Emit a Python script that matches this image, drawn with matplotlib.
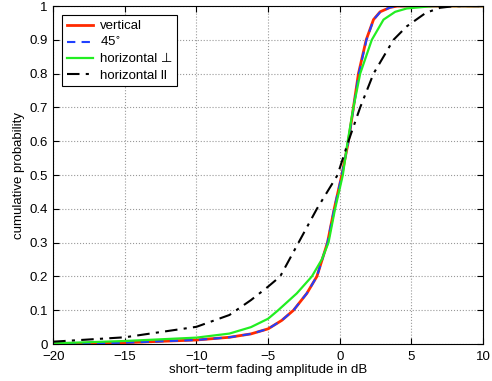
import matplotlib
matplotlib.use("Agg")
import matplotlib.pyplot as plt
import numpy as np

plt.rcParams["font.family"] = ["Liberation Sans", "DejaVu Sans"]
plt.rcParams["font.size"] = 9.5

# fading amplitude in dB and CDF values
x_vert = [-20, -15, -10, -7.7, -6.2, -5, -4.05, -3.23, -2.3, -1.6, -0.86, -0.39, 0.14,
          0.6, 0.95, 1.3, 1.84, 2.35, 2.81, 3.5, 4, 10]
cdf_vert = [0.0, 0.004, 0.012, 0.02, 0.03, 0.045, 0.07, 0.1, 0.15, 0.2, 0.3, 0.4, 0.5,
            0.6, 0.7, 0.8, 0.9, 0.96, 0.983, 0.996, 1.0, 1.0]

x_45 = [-20, -15, -10, -7.7, -6.2, -5, -4.05, -3.23, -2.3, -1.6, -0.86, -0.39, 0.14,
        0.6, 0.96, 1.32, 1.86, 2.36, 2.83, 3.5, 4, 10]
cdf_45 = [0.0, 0.004, 0.012, 0.02, 0.03, 0.045, 0.07, 0.1, 0.15, 0.2, 0.3, 0.4, 0.5,
          0.6, 0.7, 0.8, 0.9, 0.96, 0.983, 0.996, 1.0, 1.0]

x_hperp = [-20, -15, -10, -7.7, -6.2, -5, -4.3, -3.0, -1.95, -1.26, -0.79, -0.33, 0.21,
           0.55, 0.95, 1.42, 2.23, 3.05, 3.86, 4.67, 6.5, 10]
cdf_hperp = [0.002, 0.009, 0.019, 0.031, 0.05, 0.075, 0.1, 0.15, 0.2, 0.25, 0.3, 0.4, 0.5,
             0.6, 0.7, 0.8, 0.9, 0.96, 0.983, 0.993, 1.0, 1.0]

x_hpar = [-20, -15, -10, -7.7, -6.2, -5, -4.16, -2.88, -1.6, -0.16, 0.6, 1.42, 2.35,
          3.74, 4.67, 6, 7, 8, 10]
cdf_hpar = [0.007, 0.02, 0.051, 0.086, 0.13, 0.17, 0.2, 0.3, 0.4, 0.5, 0.6, 0.7, 0.8,
            0.9, 0.94, 0.98, 0.995, 1.0, 1.0]

fig = plt.figure(figsize=(4.92, 3.81), dpi=100)
ax = fig.add_axes([0.108, 0.097, 0.874, 0.887])

ax.plot(x_vert, cdf_vert, color="#ff2a00", lw=2, label="vertical")
ax.plot(x_45, cdf_45, color="#2040ff", lw=1.5, ls=(0, (4, 3)), label="45$^{\\circ}$")
ax.plot(x_hperp, cdf_hperp, color="#22ee22", lw=1.6, label="horizontal \u22a5")
ax.plot(x_hpar, cdf_hpar, color="black", lw=1.5, ls=(0, (6, 3, 1.5, 3)), label="horizontal ll")

ax.set_xlim(-20, 10)
ax.set_ylim(0, 1)
ax.set_xticks(np.arange(-20, 11, 5))
ax.set_yticks(np.arange(0, 1.01, 0.1))
ax.set_yticklabels(["0", "0.1", "0.2", "0.3", "0.4", "0.5", "0.6", "0.7", "0.8", "0.9", "1"])
ax.tick_params(direction="in", top=True, right=True, length=4)
ax.tick_params(axis="x", pad=5)
ax.tick_params(axis="y", pad=4)
ax.grid(True, ls=":", color="#999999", lw=0.8)
ax.set_xlabel("short\u2212term fading amplitude in dB", labelpad=1)
ax.set_ylabel("cumulative probability", labelpad=3)

leg = ax.legend(loc="upper left", fancybox=False, edgecolor="black", framealpha=1,
                fontsize=9.5, handlelength=2.0, handletextpad=0.5, borderpad=0.35,
                borderaxespad=0.7, labelspacing=0.3)
leg.get_frame().set_linewidth(0.8)

fig.savefig("out.png", dpi=100)
